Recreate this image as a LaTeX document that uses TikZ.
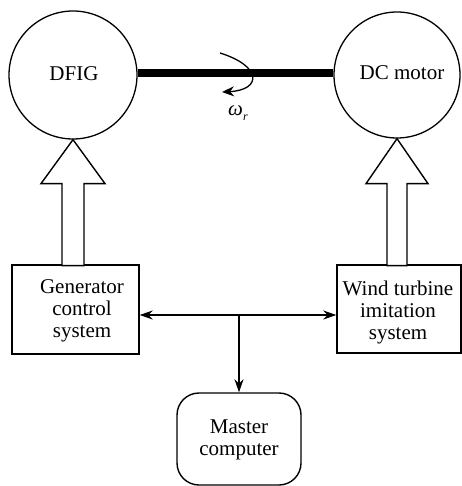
\documentclass[tikz,border=0pt]{standalone}
\usepackage{fontspec}
\setmainfont{Liberation Serif}
\usetikzlibrary{arrows.meta}
\begin{document}
\begin{tikzpicture}[x=1pt,y=-1pt,
  every node/.style={font=\fontsize{21pt}{22pt}\selectfont},
  machine/.style={draw,circle,line width=1.3pt,inner sep=0pt},
  blockbox/.style={draw,rectangle,line width=1.4pt,inner sep=0pt},
  txt/.style={align=center,inner sep=0pt},
  hollow/.style={draw,line width=1.4pt,fill=white,line join=miter},
  conn/.style={line width=1.3pt},
  tip/.style={-{Stealth[length=13pt,width=9pt]}},
  biTip/.style={{Stealth[length=13pt,width=9pt]}-{Stealth[length=13pt,width=9pt]}}]
\useasboundingbox (0,0) rectangle (461,486);
% machines
\node[machine,minimum size=128pt] (dfig) at (73,75) {};
\node[txt] (dfigt) at (74,74) {DFIG};
\node[machine,minimum size=126pt] (dc) at (397,75) {};
\node[txt] (dct) at (402,73) {DC motor};
% shaft
\coordinate (sh) at (0,73);
\draw[line width=8pt] (dfig.east |- sh) -- (dc.west |- sh);
% rotation arrow
\coordinate (r1) at (220,53);
\coordinate (r2) at (222,92);
\draw[line width=1.3pt,-{Stealth[length=12pt,width=10pt]}] (r1) .. controls (262,66) and (262,90) .. (r2);
\node[inner sep=0pt] (omega) at (238,113) {\textit{ω}\raisebox{-5pt}{\fontsize{12pt}{12pt}\selectfont\textit{r}}};
% boxes
\node[blockbox,minimum width=127pt,minimum height=89pt] (gen) at (75.5,309.5) {};
\node[txt] (gent) at (82,311) {Generator\\control\\system};
\node[blockbox,minimum width=124pt,minimum height=88pt] (wt) at (399,309) {};
\node[txt] (wtt) at (398,312) {Wind turbine\\imitation\\system};
\node[draw,rectangle,rounded corners=22pt,line width=1.4pt,minimum width=124pt,minimum height=92pt,inner sep=0pt] (mc) at (239,439) {};
\node[txt] (mct) at (239,440) {Master\\computer};
% hollow arrows
\draw[hollow] (dfig.south) -- ++(32,44) -- ++(-21,0) -- ++(0,82) -- ++(-22,0) -- ++(0,-82) -- ++(-21,0) -- cycle;
\draw[hollow] (dc.south) -- ++(31,45) -- ++(-21,0) -- ++(0,82) -- ++(-20,0) -- ++(0,-82) -- ++(-21,0) -- cycle;
% connectors
\coordinate (j) at (239,315);
\draw[conn,biTip] (gen.east |- j) -- (wt.west |- j);
\draw[conn,tip] (j) -- (mc.north);
\end{tikzpicture}
\end{document}
